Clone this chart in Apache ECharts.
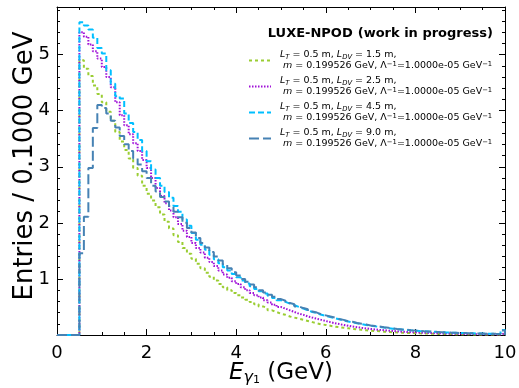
<!DOCTYPE html>
<html>
<head>
<meta charset="utf-8">
<script src="https://cdn.jsdelivr.net/npm/echarts@6/dist/echarts.min.js"></script>
<style>
html,body{margin:0;padding:0;background:#fff;}
#chart{width:519px;height:388px;}
</style>
</head>
<body>
<div id="chart"></div>
<script>
// Histogram: 100 bins of 0.1 GeV from 0 to 10 GeV
const binWidth = 0.1;
const xTicks = [0, 2, 4, 6, 8, 10];
const yTicks = [1, 2, 3, 4, 5];
const seriesNames = ['LDV 1.5 m', 'LDV 2.5 m', 'LDV 4.5 m', 'LDV 9.0 m'];
const ldvValues = ['1.5', '2.5', '4.5', '9.0'];

const valsLDV15 = [0,0,0,0,0,
4.90,4.75,4.62,4.45,4.30,
4.15,3.98,3.82,3.62,3.45,
3.30,3.15,2.98,2.84,2.66,
2.52,2.40,2.28,2.15,2.02,
1.90,1.78,1.66,1.55,1.45,
1.36,1.27,1.19,1.11,1.04,
0.97,0.91,0.85,0.80,0.75,
0.71,0.67,0.63,0.59,0.55,
0.51,0.48,0.44,0.41,0.38,
0.36,0.33,0.31,0.29,0.27,
0.25,0.23,0.21,0.19,0.18,
0.165,0.15,0.14,0.13,0.12,
0.11,0.10,0.092,0.085,0.078,
0.072,0.066,0.06,0.055,0.05,
0.046,0.042,0.038,0.035,0.032,
0.029,0.027,0.025,0.023,0.021,
0.019,0.018,0.016,0.015,0.014,
0.013,0.012,0.011,0.010,0.009,
0.009,0.008,0.008,0.007,0.02];

const valsLDV25 = [0,0,0,0,0,
5.40,5.32,5.18,5.06,4.93,
4.78,4.60,4.42,4.15,3.92,
3.74,3.58,3.42,3.28,3.12,
2.98,2.80,2.62,2.48,2.35,
2.22,2.10,1.98,1.86,1.75,
1.64,1.55,1.47,1.38,1.30,
1.23,1.15,1.08,1.02,0.96,
0.91,0.85,0.80,0.75,0.71,
0.67,0.62,0.58,0.54,0.50,
0.47,0.44,0.41,0.38,0.36,
0.33,0.31,0.29,0.27,0.25,
0.23,0.21,0.195,0.18,0.165,
0.15,0.14,0.128,0.118,0.108,
0.10,0.092,0.085,0.078,0.072,
0.066,0.06,0.055,0.051,0.047,
0.043,0.04,0.037,0.034,0.031,
0.029,0.027,0.025,0.023,0.021,
0.019,0.018,0.016,0.015,0.014,
0.013,0.012,0.011,0.010,0.03];

const valsLDV45 = [0,0,0,0,0,
5.58,5.52,5.45,5.30,5.12,
5.02,4.72,4.48,4.26,4.22,
3.95,3.78,3.62,3.48,3.28,
3.10,2.95,2.80,2.66,2.55,
2.45,2.30,2.20,2.06,1.95,
1.82,1.70,1.61,1.52,1.43,
1.35,1.28,1.21,1.15,1.09,
1.03,0.97,0.92,0.87,0.82,
0.78,0.74,0.70,0.66,0.62,
0.59,0.56,0.53,0.50,0.47,
0.44,0.41,0.39,0.36,0.34,
0.32,0.30,0.28,0.26,0.24,
0.225,0.21,0.195,0.18,0.167,
0.155,0.143,0.132,0.122,0.113,
0.105,0.097,0.09,0.083,0.077,
0.071,0.066,0.061,0.057,0.053,
0.049,0.045,0.042,0.039,0.036,
0.034,0.031,0.029,0.027,0.025,
0.023,0.022,0.020,0.019,0.09];

const valsLDV90 = [0,0,0,0,0,
1.46,2.11,2.98,3.69,4.10,
4.05,3.95,3.82,3.70,3.55,
3.40,3.28,3.15,3.04,2.92,
2.80,2.66,2.56,2.46,2.38,
2.30,2.20,2.10,2.00,1.91,
1.83,1.73,1.64,1.56,1.48,
1.40,1.33,1.26,1.19,1.12,
1.06,1.00,0.95,0.90,0.85,
0.80,0.76,0.72,0.68,0.64,
0.61,0.57,0.55,0.51,0.48,
0.46,0.42,0.40,0.37,0.35,
0.33,0.31,0.285,0.27,0.245,
0.235,0.215,0.20,0.19,0.17,
0.16,0.15,0.137,0.128,0.118,
0.108,0.10,0.094,0.086,0.08,
0.074,0.068,0.064,0.058,0.055,
0.05,0.047,0.043,0.04,0.037,
0.035,0.032,0.03,0.028,0.026,
0.024,0.023,0.021,0.02,0.08];

const allVals = [valsLDV15, valsLDV25, valsLDV45, valsLDV90];
const colors = ['#9acd32', '#a010d8', '#00bfff', '#4682b4'];
const dashes = [[3, 3], [1.5, 1.5], [6, 3], [10, 4]];

function stepPoints(vals) {
  const pts = [];
  for (let i = 0; i < vals.length; i++) pts.push([+(i * binWidth).toFixed(2), vals[i]]);
  const xEnd = +(vals.length * binWidth).toFixed(2);
  pts.push([xEnd, vals[vals.length - 1]]);
  pts.push([xEnd, 0]);
  return pts;
}

const FONT = 'DejaVu Sans';
const legendRich = {
  n: {fontFamily: FONT, fontSize: 9.5, lineHeight: 11, color: '#000'},
  i: {fontFamily: FONT, fontStyle: 'italic', fontSize: 9.5, lineHeight: 11, color: '#000'},
  s: {fontFamily: FONT, fontStyle: 'italic', fontSize: 6.8, lineHeight: 7, verticalAlign: 'bottom', color: '#000'},
  p: {fontFamily: FONT, fontSize: 6.8, lineHeight: 7, verticalAlign: 'top', color: '#000'}
};

const series = allVals.map((vals, k) => ({
  name: seriesNames[k],
  type: 'line',
  step: 'end',
  symbol: 'none',
  showSymbol: false,
  data: stepPoints(vals),
  lineStyle: {color: colors[k], width: 2, type: dashes[k]},
  itemStyle: {color: colors[k]},
  z: 2 + k
}));

const chart = echarts.init(document.getElementById('chart'), null, {renderer: 'canvas'});
const axisCommon = {
  type: 'value',
  axisLine: {show: true, onZero: false, lineStyle: {color: '#000', width: 1}},
  splitLine: {show: false},
  axisTick: {show: true, inside: true, length: 6, lineStyle: {color: '#000'}},
  minorTick: {show: true, length: 3, lineStyle: {color: '#000'}}
};
chart.setOption({
  animation: false,
  backgroundColor: '#fff',
  title: {
    text: '{b|LUXE-NPOD} {n|(work in progress)}',
    right: 21, top: 20,
    textStyle: {
      rich: {
        b: {fontFamily: FONT, fontWeight: 'bold', fontSize: 13, color: '#000'},
        n: {fontFamily: FONT, fontSize: 13, color: '#000'}
      }
    }
  },
  legend: {
    orient: 'vertical',
    left: 248, top: 50, padding: 0,
    itemWidth: 22, itemHeight: 10, itemGap: 5,
    data: seriesNames,
    itemStyle: {color: 'rgba(0,0,0,0)', borderWidth: 0, opacity: 0},
    formatter: function (name) {
      const k = seriesNames.indexOf(name);
      return '{i|L}{s|T}{n| = 0.5 m, }{i|L}{s|DV}{n| = ' + ldvValues[k] + ' m,}\n' +
        '{n| }{i|m}{n| = 0.199526 GeV, Λ}{p|−1}{n|=1.0000e-05 GeV}{p|−1}';
    },
    textStyle: {padding: [0, 0, 0, 4], rich: legendRich}
  },
  grid: {left: 57, right: 14, top: 7, bottom: 53, containLabel: false, outerBoundsMode: 'none'},
  xAxis: [
    Object.assign({}, axisCommon, {
      position: 'bottom', min: 0, max: 10, interval: 2,
      minorTick: {show: true, splitNumber: 4, length: 3, lineStyle: {color: '#000'}},
      axisLabel: {fontFamily: FONT, fontSize: 18, color: '#000', margin: 9,
        formatter: v => xTicks.includes(v) ? String(v) : ''},
      name: '{i|E}{s|γ}{ss|1}{n| (GeV)}',
      nameLocation: 'middle', nameGap: 25, nameMoveOverlap: false,
      nameTextStyle: {
        rich: {
          n: {fontFamily: FONT, fontSize: 23, lineHeight: 26, color: '#000'},
          i: {fontFamily: FONT, fontStyle: 'italic', fontSize: 23, lineHeight: 26, color: '#000'},
          s: {fontFamily: FONT, fontStyle: 'italic', fontSize: 16, lineHeight: 16, verticalAlign: 'bottom', color: '#000'},
          ss: {fontFamily: FONT, fontSize: 11, lineHeight: 9, verticalAlign: 'bottom', color: '#000'}
        }
      }
    }),
    Object.assign({}, axisCommon, {
      position: 'top', min: 0, max: 10, interval: 2,
      minorTick: {show: true, splitNumber: 4, length: 3, lineStyle: {color: '#000'}},
      axisLabel: {show: false}
    })
  ],
  yAxis: [
    Object.assign({}, axisCommon, {
      position: 'left', min: 0, max: 5.85, interval: 1,
      minorTick: {show: true, splitNumber: 5, length: 3, lineStyle: {color: '#000'}},
      axisLabel: {fontFamily: FONT, fontSize: 18, color: '#000', margin: 7,
        showMinLabel: false, showMaxLabel: false,
        formatter: v => yTicks.includes(v) ? String(v) : ''},
      name: 'Entries / 0.1000 GeV',
      nameLocation: 'middle', nameGap: 19, nameMoveOverlap: false,
      nameTextStyle: {fontFamily: FONT, fontSize: 26, color: '#000', padding: [0, 0, 0, 10]}
    }),
    Object.assign({}, axisCommon, {
      position: 'right', min: 0, max: 5.85, interval: 1,
      minorTick: {show: true, splitNumber: 5, length: 3, lineStyle: {color: '#000'}},
      axisLabel: {show: false}
    })
  ],
  series: series
});
</script>
</body>
</html>
